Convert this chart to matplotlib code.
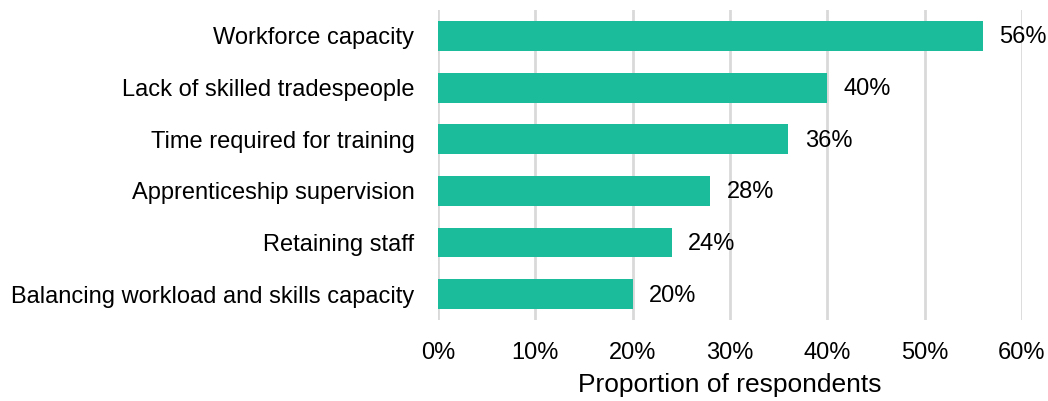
import matplotlib
matplotlib.use("Agg")
from matplotlib import pyplot as plt
from matplotlib.ticker import FuncFormatter

categories = [
    "Workforce capacity",
    "Lack of skilled tradespeople",
    "Time required for training",
    "Apprenticeship supervision",
    "Retaining staff",
    "Balancing workload and skills capacity",
]
values = [56, 40, 36, 28, 24, 20]

plt.rcParams["font.family"] = ["Liberation Sans", "DejaVu Sans"]

fig = plt.figure(figsize=(10.48, 4.01), dpi=100)
ax = fig.add_axes([0.418, 0.202, 0.557, 0.773])

y = list(range(len(categories)))
ax.barh(y, values, height=0.58, color="#1ABC9C", zorder=3)
for yi, v in zip(y, values):
    ax.text(v + 1.7, yi + 0.03, f"{v}%", va="center", ha="left", fontsize=17, color="black", zorder=4)

ax.set_ylim(len(categories) - 0.5, -0.5)
ax.set_yticks(y)
ax.set_yticklabels(categories, fontsize=17)
ax.set_xlim(0, 60)
ax.set_xticks(range(0, 61, 10))
ax.xaxis.set_major_formatter(FuncFormatter(lambda x, _: f"{x:.0f}%"))
ax.tick_params(axis="x", labelsize=17, length=0, pad=16)
ax.tick_params(axis="y", length=0, pad=17)
ax.grid(axis="x", color="#D9D9D9", linewidth=2, zorder=0)
for s in ax.spines.values():
    s.set_visible(False)
ax.set_xlabel("Proportion of respondents", fontsize=19, labelpad=6)

fig.savefig("out.png", dpi=100)
